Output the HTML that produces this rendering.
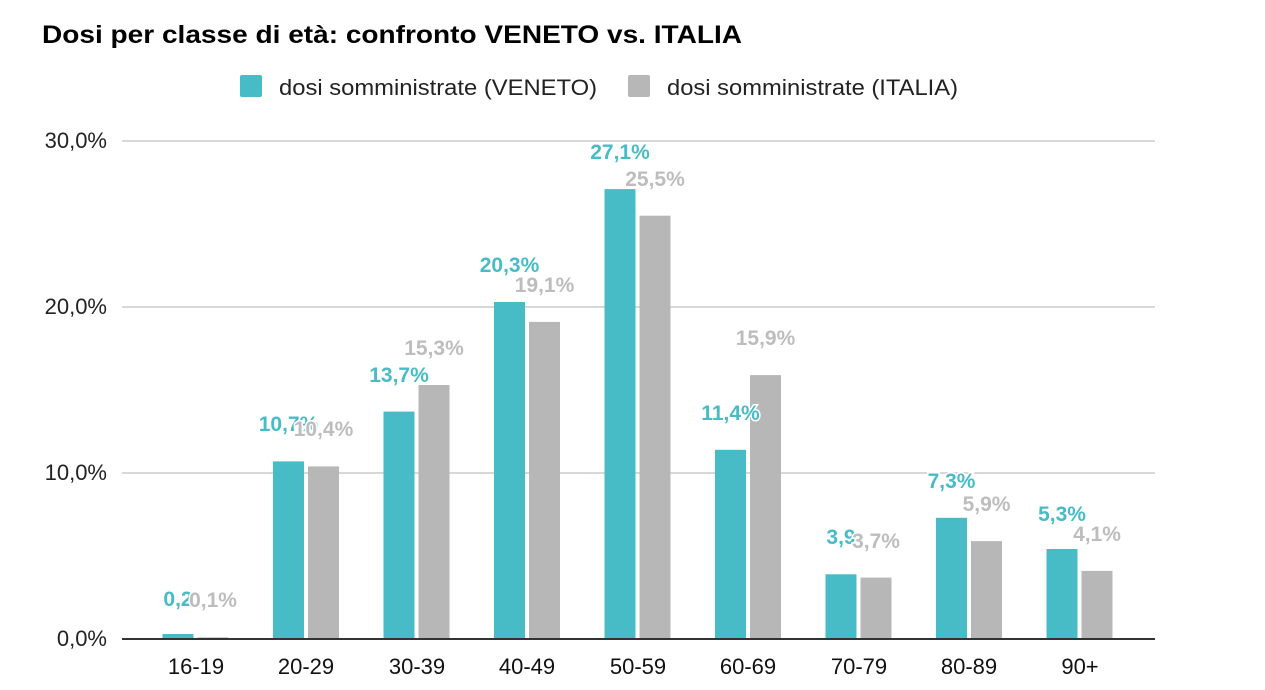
<!DOCTYPE html><html><head><meta charset="utf-8"><style>body{margin:0;background:#fff}svg{display:block}text{font-family:"Liberation Sans",Arial,sans-serif}</style></head><body>
<svg width="1265" height="690" viewBox="0 0 1265 690" xmlns="http://www.w3.org/2000/svg">
<rect width="1265" height="690" fill="#fff"/>
<text x="42" y="43" font-size="25" font-weight="bold" fill="#000" textLength="700" lengthAdjust="spacingAndGlyphs">Dosi per classe di età: confronto VENETO vs. ITALIA</text>
<rect x="240" y="75" width="22" height="22" rx="2" fill="#47bcc6"/>
<text x="279" y="95" font-size="22" fill="#222" textLength="318" lengthAdjust="spacingAndGlyphs">dosi somministrate (VENETO)</text>
<rect x="628" y="75" width="22" height="22" rx="2" fill="#b7b7b7"/>
<text x="667" y="95" font-size="22" fill="#222" textLength="291" lengthAdjust="spacingAndGlyphs">dosi somministrate (ITALIA)</text>
<g stroke="#ccc" stroke-width="1.5"><line x1="122" y1="141" x2="1155" y2="141"/><line x1="122" y1="307" x2="1155" y2="307"/><line x1="122" y1="473" x2="1155" y2="473"/></g>
<g font-size="22" fill="#222" text-anchor="end"><text x="107" y="148">30,0%</text><text x="107" y="314">20,0%</text><text x="107" y="480">10,0%</text><text x="107" y="646">0,0%</text></g>
<g fill="#47bcc6">
<rect x="162.5" y="634" width="31" height="5"/><rect x="273" y="461.4" width="31" height="177.6"/><rect x="383.5" y="411.6" width="31" height="227.4"/><rect x="494" y="302" width="31" height="337"/><rect x="604.5" y="189.1" width="31" height="449.9"/><rect x="715" y="449.8" width="31" height="189.2"/><rect x="825.5" y="574.3" width="31" height="64.7"/><rect x="936" y="517.8" width="31" height="121.2"/><rect x="1046.5" y="549" width="31" height="90"/>
</g>
<g fill="#b7b7b7">
<rect x="197.5" y="637.3" width="31" height="1.7"/><rect x="308" y="466.4" width="31" height="172.6"/><rect x="418.5" y="385" width="31" height="254"/><rect x="529" y="321.9" width="31" height="317.1"/><rect x="639.5" y="215.7" width="31" height="423.3"/><rect x="750" y="375.1" width="31" height="263.9"/><rect x="860.5" y="577.6" width="31" height="61.4"/><rect x="971" y="541.1" width="31" height="97.9"/><rect x="1081.5" y="570.9" width="31" height="68.1"/>
</g>
<g font-size="21" font-weight="bold" fill="#47bcc6" text-anchor="middle" stroke="#fff" stroke-width="3" paint-order="stroke">
<text x="178" y="606">0,2</text><text x="288.5" y="431">10,7%</text><text x="399" y="382">13,7%</text><text x="509.5" y="272">20,3%</text><text x="620" y="159">27,1%</text><text x="730.5" y="420">11,4%</text><text x="841" y="544">3,9</text><text x="951.5" y="488">7,3%</text><text x="1062" y="521">5,3%</text>
</g>
<g font-size="21" font-weight="bold" fill="#bdbdbd" text-anchor="middle" stroke="#fff" stroke-width="3" paint-order="stroke">
<text x="213" y="607">0,1%</text><text x="323.5" y="436">10,4%</text><text x="434" y="355">15,3%</text><text x="544.5" y="292">19,1%</text><text x="655" y="186">25,5%</text><text x="765.5" y="345">15,9%</text><text x="876" y="548">3,7%</text><text x="986.5" y="511">5,9%</text><text x="1097" y="541">4,1%</text>
</g>
<line x1="122" y1="639" x2="1155" y2="639" stroke="#333" stroke-width="2"/>
<g font-size="22" fill="#111" text-anchor="middle">
<text x="196" y="674">16-19</text><text x="306" y="674">20-29</text><text x="417" y="674">30-39</text><text x="527" y="674">40-49</text><text x="638" y="674">50-59</text><text x="748" y="674">60-69</text><text x="859" y="674">70-79</text><text x="969" y="674">80-89</text><text x="1080" y="674">90+</text>
</g>
</svg></body></html>
